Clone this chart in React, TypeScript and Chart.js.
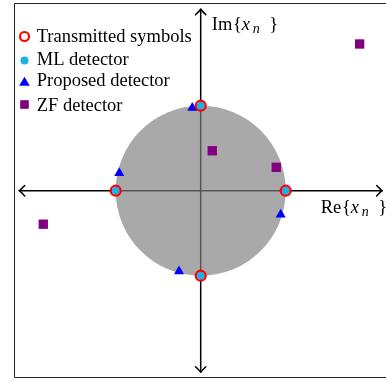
import React, { useEffect, useRef } from 'react';
import { Chart, registerables } from 'chart.js';

Chart.register(...registerables);

// ---------- data ----------
const seriesLabels = ['Transmitted symbols', 'ML detector', 'Proposed detector', 'ZF detector'];
const transmittedX = [1, 0, -1, 0];
const transmittedY = [0, 1, 0, -1];
const mlX = [1, 0, -1, 0];
const mlY = [0, 1, 0, -1];
const proposedX = [-0.099, -0.958, 0.941, -0.255];
const proposedY = [0.976, 0.208, -0.282, -0.949];
const zfX = [1.87, -1.852, 0.136, 0.889];
const zfY = [1.726, -0.394, 0.47, 0.275];
const axisLabelPrefixes = ['Re', 'Im'];
const regionRadius = [1];

// ---------- layout / style ----------
const W = 386;
const H = 381;
const X_MIN = -2.361;
const X_MAX = 2.18;
const Y_MIN = -2.2388;
const Y_MAX = 2.2435;
const AXIS_EXT = 2.135;
const FRAME = { left: -2.202, top: 2.21, bottom: -2.19 };
const FONT = "'Liberation Serif', 'Times New Roman', serif";
const FS = 18.5;

const toPts = (xs: number[], ys: number[]) => xs.map((x, i) => ({ x, y: ys[i] }));

function drawArrowHead(ctx: CanvasRenderingContext2D, x: number, y: number, dir: 'r' | 'l' | 'u' | 'd') {
  const L = 5.5, S = 5.2;
  ctx.beginPath();
  if (dir === 'r') {
    ctx.moveTo(x - L, y - S); ctx.quadraticCurveTo(x - 1.5, y - 1, x, y); ctx.quadraticCurveTo(x - 1.5, y + 1, x - L, y + S);
  } else if (dir === 'l') {
    ctx.moveTo(x + L, y - S); ctx.quadraticCurveTo(x + 1.5, y - 1, x, y); ctx.quadraticCurveTo(x + 1.5, y + 1, x + L, y + S);
  } else if (dir === 'u') {
    ctx.moveTo(x - S, y + L); ctx.quadraticCurveTo(x - 1, y + 1.5, x, y); ctx.quadraticCurveTo(x + 1, y + 1.5, x + S, y + L);
  } else {
    ctx.moveTo(x - S, y - L); ctx.quadraticCurveTo(x - 1, y - 1.5, x, y); ctx.quadraticCurveTo(x + 1, y - 1.5, x + S, y - L);
  }
  ctx.stroke();
}

function drawMathLabel(ctx: CanvasRenderingContext2D, prefix: string, x: number, y: number) {
  ctx.fillStyle = '#000';
  ctx.textBaseline = 'alphabetic';
  ctx.textAlign = 'left';
  ctx.font = `${FS}px ${FONT}`;
  ctx.fillText(prefix, x, y);
  const w = ctx.measureText(prefix).width;
  ctx.fillText('{', x + w + 0.8, y);
  ctx.font = `italic ${FS}px ${FONT}`;
  ctx.fillText('x', x + w + 9.5, y);
  ctx.font = `italic 14px ${FONT}`;
  ctx.fillText('n', x + w + 20.5, y + 3);
  ctx.font = `${FS}px ${FONT}`;
  ctx.fillText('}', x + w + 37, y);
}

const decorPlugin = {
  id: 'decor',
  beforeDatasetsDraw(chart: any) {
    const ctx: CanvasRenderingContext2D = chart.ctx;
    const xs = chart.scales.x;
    const ys = chart.scales.y;
    const px = (v: number) => xs.getPixelForValue(v);
    const py = (v: number) => ys.getPixelForValue(v);
    ctx.save();
    ctx.fillStyle = '#fff';
    ctx.fillRect(0, 0, W, H);
    // frame: left, top and bottom edges (the right edge lies outside the picture)
    ctx.strokeStyle = '#222';
    ctx.lineWidth = 1;
    const fl = Math.round(px(FRAME.left)) + 0.5;
    const ft = Math.round(py(FRAME.top)) + 0.5;
    const fb = Math.round(py(FRAME.bottom)) + 0.5;
    ctx.beginPath();
    ctx.moveTo(W + 2, ft); ctx.lineTo(fl, ft); ctx.lineTo(fl, fb); ctx.lineTo(W + 2, fb);
    ctx.stroke();
    // axes
    ctx.strokeStyle = '#000';
    ctx.lineWidth = 1.5;
    ctx.lineCap = 'round';
    ctx.lineJoin = 'round';
    const cx = px(0), cy = py(0);
    ctx.beginPath();
    ctx.moveTo(px(-AXIS_EXT), cy); ctx.lineTo(px(AXIS_EXT), cy);
    ctx.moveTo(cx, py(AXIS_EXT)); ctx.lineTo(cx, py(-AXIS_EXT));
    ctx.stroke();
    drawArrowHead(ctx, px(AXIS_EXT), cy, 'r');
    drawArrowHead(ctx, px(-AXIS_EXT), cy, 'l');
    drawArrowHead(ctx, cx, py(AXIS_EXT), 'u');
    drawArrowHead(ctx, cx, py(-AXIS_EXT), 'd');
    // gray region
    const r = px(regionRadius[0]) - px(0);
    ctx.fillStyle = 'rgba(128,128,128,0.68)';
    ctx.beginPath();
    ctx.arc(cx, cy, r, 0, Math.PI * 2);
    ctx.fill();
    // axis labels
    drawMathLabel(ctx, axisLabelPrefixes[0], px(1.412), py(-0.259));
    drawMathLabel(ctx, axisLabelPrefixes[1], px(0.13), py(1.896));
    ctx.restore();
  },
  afterDatasetsDraw(chart: any) {
    const ctx: CanvasRenderingContext2D = chart.ctx;
    const ds = chart.data.datasets;
    const mx = 24.5;
    const markerY = [36.5, 60.5, 82.5, 104.5];
    const textY = [41.5, 65, 85.5, 110.5];
    ctx.save();
    ctx.strokeStyle = ds[0].pointBorderColor;
    ctx.lineWidth = 2.1;
    ctx.beginPath(); ctx.arc(mx, markerY[0], 4.5, 0, Math.PI * 2); ctx.stroke();
    ctx.fillStyle = ds[1].pointBackgroundColor;
    ctx.beginPath(); ctx.arc(mx, markerY[1], 4, 0, Math.PI * 2); ctx.fill();
    ctx.fillStyle = ds[2].pointBackgroundColor;
    ctx.beginPath();
    ctx.moveTo(mx, markerY[2] - 5.8);
    ctx.lineTo(mx + 5.3, markerY[2] + 3.3);
    ctx.lineTo(mx - 5.3, markerY[2] + 3.3);
    ctx.closePath(); ctx.fill();
    ctx.fillStyle = ds[3].pointBackgroundColor;
    ctx.fillRect(mx - 4.3, markerY[3] - 4.3, 8.6, 8.6);
    ctx.fillStyle = '#000';
    ctx.font = `${FS}px ${FONT}`;
    ctx.textBaseline = 'alphabetic';
    ctx.textAlign = 'left';
    ds.forEach((d: any, i: number) => ctx.fillText(d.label, 36.7, textY[i]));
    ctx.restore();
  },
};

export default function App() {
  const canvasRef = useRef<HTMLCanvasElement | null>(null);
  useEffect(() => {
    if (!canvasRef.current) return;
    const chart = new Chart(canvasRef.current, {
      type: 'scatter',
      data: {
        datasets: [
          {
            label: seriesLabels[0],
            data: toPts(transmittedX, transmittedY),
            pointStyle: 'circle',
            pointRadius: 5,
            pointBorderWidth: 2.2,
            pointBorderColor: '#ff0000',
            pointBackgroundColor: 'rgba(0,0,0,0)',
          },
          {
            label: seriesLabels[1],
            data: toPts(mlX, mlY),
            pointStyle: 'circle',
            pointRadius: 4.2,
            pointBorderWidth: 0,
            pointBorderColor: 'rgba(0,0,0,0)',
            pointBackgroundColor: '#1eb0e6',
          },
          {
            label: seriesLabels[2],
            data: toPts(proposedX, proposedY),
            pointStyle: 'triangle',
            pointRadius: 5.8,
            pointBorderWidth: 0,
            pointBorderColor: 'rgba(0,0,0,0)',
            pointBackgroundColor: '#0000ff',
          },
          {
            label: seriesLabels[3],
            data: toPts(zfX, zfY),
            pointStyle: 'rect',
            pointRadius: 6.6,
            pointBorderWidth: 0,
            pointBorderColor: 'rgba(0,0,0,0)',
            pointBackgroundColor: '#800080',
          },
        ],
      },
      options: {
        animation: false,
        responsive: false,
        devicePixelRatio: 1,
        layout: { padding: 0, autoPadding: false },
        plugins: { legend: { display: false }, tooltip: { enabled: false } },
        events: [],
        scales: {
          x: { type: 'linear', min: X_MIN, max: X_MAX, display: false },
          y: { type: 'linear', min: Y_MIN, max: Y_MAX, display: false },
        },
      },
      plugins: [decorPlugin],
    });
    return () => chart.destroy();
  }, []);
  return (
    <div style={{ position: 'fixed', left: 0, top: 0, width: W, height: H, background: '#fff' }}>
      <canvas ref={canvasRef} width={W} height={H} style={{ display: 'block', width: W, height: H }} />
    </div>
  );
}
